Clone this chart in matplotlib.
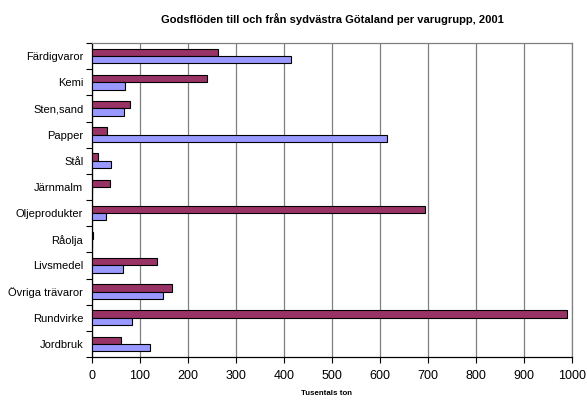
import matplotlib
matplotlib.use("Agg")
import matplotlib.pyplot as plt
import numpy as np

plt.rcParams['font.family'] = ['Liberation Sans', 'DejaVu Sans']

categories = ["Färdigvaror", "Kemi", "Sten,sand", "Papper", "Stål", "Järnmalm",
              "Oljeprodukter", "Råolja", "Livsmedel", "Övriga trävaror", "Rundvirke", "Jordbruk"]
series_a = [263, 240, 81, 33, 14, 38, 693, 2, 136, 167, 989, 61]   # maroon
series_b = [416, 70, 68, 614, 40, 1, 31, 1, 66, 148, 84, 121]      # blue
xticks = [0, 100, 200, 300, 400, 500, 600, 700, 800, 900, 1000]

fig = plt.figure(figsize=(5.87, 4.0), dpi=100)
ax = fig.add_axes([0.156, 0.1075, 0.8185, 0.785])

n = len(categories)
y = np.arange(n)
h = 0.28
ax.barh(y - h/2, series_a, height=h, color="#993366", edgecolor="black", linewidth=0.8, zorder=3)
ax.barh(y + h/2, series_b, height=h, color="#9999FF", edgecolor="black", linewidth=0.8, zorder=3)

ax.set_xlim(0, 1000)
ax.set_ylim(n - 0.5, -0.5)
ax.set_xticks(xticks)
ax.set_xticklabels([str(t) for t in xticks], fontsize=9)
ax.set_yticks(y)
ax.set_yticklabels(categories, fontsize=8)
ax.tick_params(axis='y', length=0, pad=6)
ax.set_yticks(np.arange(-0.5, n, 1), minor=True)
ax.tick_params(axis='y', which='minor', length=4, width=0.8)
ax.tick_params(axis='x', length=4, width=0.8, pad=5.5)

ax.grid(axis='x', color='#808080', linewidth=0.9, zorder=0)
for s in ['top', 'right']:
    ax.spines[s].set_color('#808080')
    ax.spines[s].set_linewidth(0.9)
for s in ['left', 'bottom']:
    ax.spines[s].set_color('black')
    ax.spines[s].set_linewidth(0.9)

fig.text(0.556, 0.016, "Tusentals ton", fontsize=5.7, fontweight='bold', ha='center', va='center')
fig.text(0.566, 0.952, "Godsflöden till och från sydvästra Götaland per varugrupp, 2001",
         fontsize=8, fontweight='bold', ha='center', va='center')

fig.savefig("out.png", dpi=100)
